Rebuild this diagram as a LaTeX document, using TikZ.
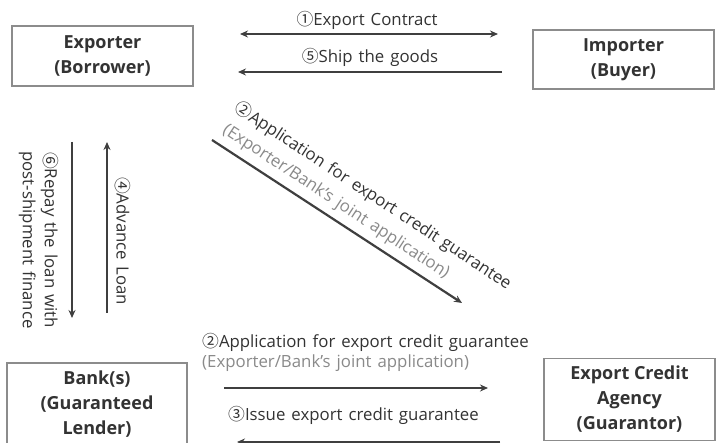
\documentclass[tikz,border=0pt]{standalone}
\usepackage{fontspec}
\setmainfont{Open Sans}
\newfontfamily\cjkfont{Noto Sans CJK KR}
\newcommand\circnum[1]{{\cjkfont #1}}
\usetikzlibrary{arrows.meta}
\definecolor{txt}{HTML}{333333}
\definecolor{graytxt}{HTML}{8A8A8A}
\definecolor{arrowc}{HTML}{3F3F3F}
\definecolor{boxline}{HTML}{8C8C8C}
\newcommand\lblfont{\fontsize{16.8}{22}\selectfont\spaceskip=6pt plus 1pt minus 1pt\relax}
\tikzset{
  box/.style={draw=boxline, line width=1.3pt, fill=white, align=center, text=txt,
    font=\fontsize{18}{25}\selectfont\bfseries, inner sep=0pt},
  lbl/.style={text=txt, font=\lblfont, inner sep=0pt},
  glbl/.style={text=graytxt, font=\lblfont, inner sep=0pt},
  arr/.style={draw=arrowc, line width=2.2pt, -{Stealth[length=8pt,width=7pt]}},
  darr/.style={draw=arrowc, line width=2.2pt, {Stealth[length=8pt,width=7pt]}-{Stealth[length=8pt,width=7pt]}},
}
\begin{document}
\begin{tikzpicture}[x=1pt,y=-1pt]
\useasboundingbox (0,0) rectangle (718,443);
\fill[white] (0,0) rectangle (718,443);

% boxes
\node[box, minimum width=181pt, minimum height=60pt] (exp) at (102.5,56) {Exporter\\(Borrower)};
\node[box, minimum width=181pt, minimum height=59pt] (imp) at (623.5,59.5) {Importer\\(Buyer)};
\node[box, minimum width=180pt, minimum height=82pt] (bank) at (97,404) {Bank(s)\\(Guaranteed\\Lender)};
\node[box, minimum width=171pt, minimum height=82pt] (eca) at (629.5,399.5) {Export Credit\\Agency\\(Guarantor)};

% arrow end points
\coordinate (a1L) at (240,34);
\coordinate (a1R) at (498,34);
\coordinate (a5R) at (502,72);
\coordinate (a5L) at (238,72);
\coordinate (d1) at (212,140);
\coordinate (d2) at (462,303);
\coordinate (v6t) at (72,142);
\coordinate (v6b) at (72,318);
\coordinate (v4b) at (107,313);
\coordinate (v4t) at (107,142);
\coordinate (b2L) at (224,388);
\coordinate (b2R) at (488,388);
\coordinate (b3R) at (500,442);
\coordinate (b3L) at (237,442);

% arrows
\draw[darr] (a1L) -- (a1R);
\draw[arr] (a5R) -- (a5L);
\draw[arr] (d1) -- (d2);
\draw[arr] (v6t) -- (v6b);
\draw[arr] (v4b) -- (v4t);
\draw[arr] (b2L) -- (b2R);
\draw[arr] (b3R) -- (b3L);

% labels
\node[lbl] (t1) at (367,20) {\circnum{①}Export Contract};
\node[lbl] (t5) at (370,57) {\circnum{⑤}Ship the goods};
\node[lbl, rotate=-33.2] (t2a) at (373,196) {\circnum{②}Application for export credit guarantee};
\node[glbl, rotate=-33.2] (t2b) at (336,202) {(Exporter/Bank's joint application)};
\node[lbl, rotate=-90] (t4) at (123,241) {\circnum{④}Advance Loan};
\node[lbl, rotate=-90, align=center] (t6) at (39,240) {\circnum{⑥}Repay the loan with\\post-shipment finance};
\node[lbl, anchor=west] (t2c) at (202,342) {\circnum{②}Application for export credit guarantee};
\node[glbl, anchor=west] (t2d) at (202,363) {(Exporter/Bank's joint application)};
\node[lbl, anchor=west] (t3) at (228,415) {\circnum{③}Issue export credit guarantee};
\end{tikzpicture}
\end{document}
